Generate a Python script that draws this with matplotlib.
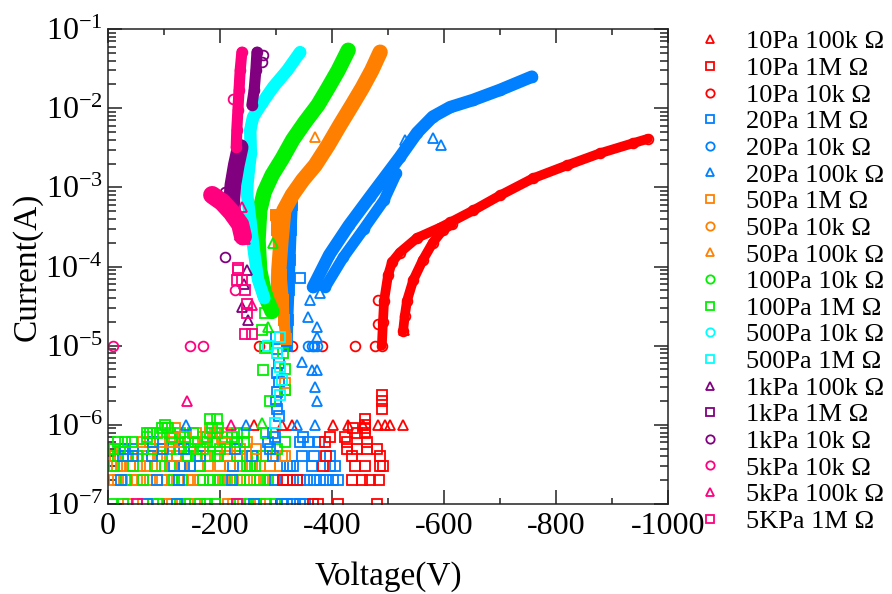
import numpy as np
import matplotlib.pyplot as plt
from matplotlib.lines import Line2D
from matplotlib.ticker import MultipleLocator, FixedLocator, LogLocator, LogFormatterMathtext, NullFormatter

plt.rcParams['font.family'] = ['Liberation Serif', 'DejaVu Serif']
plt.rcParams['mathtext.fontset'] = 'custom'
plt.rcParams['mathtext.rm'] = 'Liberation Serif'
plt.rcParams['axes.unicode_minus'] = False

RED = '#ff0000'
BLUE = '#0080ff'
ORANGE = '#ff8000'
GREEN = '#00f000'
CYAN = '#00ffff'
PURPLE = '#800080'
PINK = '#ff007f'

# --------------------------------------------------
# data (voltage in V, current in A)
# --------------------------------------------------
floor_levels = [1e-7, 2e-7, 3e-7, 4e-7, 5e-7, 6e-7, 7e-7, 8e-7, 9e-7]

orange_floor_v = [
    [-36, -63, -105, -114, -143, -155, -215, -224, -271],
    [-10, -18, -30, -42, -51, -63, -75, -96, -105, -114, -143, -152, -164, -188, -200, -212, -224, -236, -248, -260, -271, -283, -295],
    [-7, -16, -24, -39, -57, -69, -84, -96, -114, -132, -146, -164, -179, -200, -218, -236, -257, -271, -289, -307],
    [-4, -13, -33, -60, -72, -93, -105, -123, -140, -176, -191, -212, -236, -265, -283, -310, -316],
    [-7, -63, -96, -164, -212, -236, -265],
    [-63, -75, -93, -114, -129, -188, -248],
    [-117, -170, -203],
    [-158, -191, -212],
    [-105, -120, -182],
]
green_floor_v = [
    [-7, -27, -81, -90, -129, -137, -164, -176, -191, -236, -250, -265, -283, -298],
    [-33, -63, -117, -132, -170, -182, -197, -209, -236, -254, -271, -286],
    [-10, -45, -84, -111, -164, -248, -254, -262],
    [-18, -36, -51, -96, -143, -158, -182, -197, -230, -248, -277],
    [-10, -21, -63, -81, -111, -126, -149, -170, -200, -301],
    [-18, -30, -42, -143, -155, -176, -191, -209, -230, -242, -316],
    [-69, -114, -137, -176, -221],
    [-69, -75, -81, -87, -111, -129, -152, -182, -194, -230, -242, -283],
    [-96, -108, -185, -197],
]
blue_floor_v = [
    [-69, -123, -260, -310, -319, -331, -343, -352],
    [-24, -87, -126, -221, -298, -331, -343, -355, -367, -379, -390, -402, -411],
    [-117, -135, -146, -224, -319, -325, -331, -364, -396, -405],
    [-27, -45, -78, -164, -257, -295, -346, -367, -396],
    [-30, -45, -99, -135, -227, -289],
    [-81, -286, -343, -358, -376],
    [-298, -349],
    [-295],
    [],
]
red_floor_v = [
    [-366, -375, -411, -480],
    [-313, -320, -338, -436, -454, -468, -484],
    [-384, -441, -459, -486, -491],
    [-390, -435, -486],
    [-426, -444, -462, -480],
    [-387, -426, -462],
    [-396, -423],
    [-444, -459],
    [-438, -459],
]

# 10Pa
red10k_a_v = [-489, -491, -493, -500, -507, -521, -552, -593, -611, -652, -700, -759, -820, -879, -937, -964]
red10k_a_i = [1.0e-5, 2.0e-5, 3.7e-5, 7.7e-5, 1.13e-4, 1.5e-4, 2.3e-4, 3.1e-4, 3.6e-4, 5.1e-4, 7.9e-4, 1.3e-3, 1.9e-3, 2.7e-3, 3.6e-3, 4.1e-3]
red10k_b_v = [-527, -530, -534, -545, -562, -580, -598, -614]
red10k_b_i = [1.55e-5, 2.4e-5, 3.7e-5, 6.7e-5, 1.2e-4, 2.0e-4, 2.9e-4, 3.4e-4]
red10k_pts_v = [-270, -329, -382, -441, -477, -482, -482]
red10k_pts_i = [1e-5, 1e-5, 1e-5, 1e-5, 1e-5, 3.8e-5, 1.9e-5]
red100k_v = [-261, -311, -329, -402, -429, -455, -482, -495, -504, -527, -529]
red100k_i = [1e-6, 1e-6, 1e-6, 1e-6, 1e-6, 1e-6, 1e-6, 1e-6, 1e-6, 1e-6, 1.6e-5]
red1m_v = [-459, -459, -489, -489, -489]
red1m_i = [1e-6, 1.2e-6, 1.6e-6, 2.0e-6, 2.4e-6]

# 20Pa
blue10k_a_v = [-366, -395, -430, -468, -521, -552, -580, -611, -652, -700, -757]
blue10k_a_i = [5.5e-5, 1.4e-4, 3.3e-4, 7.6e-4, 2.4e-3, 4.9e-3, 7.8e-3, 1.03e-2, 1.27e-2, 1.7e-2, 2.5e-2]
blue10k_b_v = [-388, -420, -457, -493, -515]
blue10k_b_i = [5.5e-5, 1.3e-4, 3.0e-4, 6.9e-4, 1.5e-3]
blue10k_pts_v = [-357, -364, -368, -373]
blue10k_pts_i = [1e-5, 1e-5, 1e-5, 1e-5]
blue1m_band_v = [-329, -327, -325, -323, -321, -320]
blue1m_band_i = [6.0e-4, 2.9e-4, 1.2e-4, 5.0e-5, 2.1e-5, 1.0e-5]
blue1m_v = [-300, -302, -305, -302, -305, -302, -300, -302, -305, -343]
blue1m_i = [1.3e-5, 9e-6, 6e-6, 4.5e-6, 3.5e-6, 2.6e-6, 2.0e-6, 1.6e-6, 1.3e-6, 7.2e-5]
blue100k_v = [-139, -246, -338, -370, -370, -373, -361, -357, -373, -373, -379, -384, -530, -580, -595, -346, -364, -373]
blue100k_i = [1e-6, 1e-6, 1e-6, 1e-6, 3.0e-6, 2.0e-6, 3.8e-5, 2.3e-5, 1.7e-5, 1.3e-5, 4.6e-5, 5.8e-5, 4.0e-3, 4.2e-3, 3.4e-3, 6.2e-6, 4.9e-6, 4.9e-6]

# 50Pa
orange10k_v = [-486, -471, -454, -436, -414, -393, -370, -348, -329, -314, -309, -305, -304]
orange10k_i = [5.1e-2, 3.0e-2, 1.8e-2, 1.1e-2, 6.1e-3, 3.4e-3, 1.9e-3, 1.24e-3, 8.0e-4, 5.1e-4, 2.16e-4, 9.0e-5, 3.8e-5]
orange1m_v = [-300, -302, -305, -309, -313, -314, -318, -316, -316]
orange1m_i = [4.5e-4, 2.9e-4, 1.6e-4, 7.9e-5, 3.8e-5, 2.1e-5, 1.2e-5, 3.4e-6, 2.75e-6]
orange100k_v = [-370]
orange100k_i = [4.3e-3]

# 100Pa
green10k_v = [-429, -411, -393, -375, -352, -330, -311, -293, -279, -271, -268, -271, -280, -293]
green10k_i = [5.4e-2, 3.0e-2, 1.8e-2, 1.1e-2, 6.7e-3, 4.0e-3, 2.3e-3, 1.43e-3, 8.7e-4, 5.1e-4, 2.16e-4, 9.0e-5, 4.4e-5, 2.7e-5]
green1m_v = [-284, -280, -275, -280, -277, -289, -316, -316, -313, -102, -182, -194]
green1m_i = [4.0e-5, 2.6e-5, 1.6e-5, 9.3e-6, 4.9e-6, 2.0e-6, 2.75e-6, 5.0e-6, 8.0e-6, 1e-6, 1.2e-6, 1.2e-6]
green_tri_v = [-295, -286, -275]
green_tri_i = [2.0e-4, 1.7e-5, 1.05e-6]

# 500Pa
cyan10k_v = [-343, -320, -295, -275, -259, -254, -255, -250, -248, -254, -261, -268, -279]
cyan10k_i = [5.1e-2, 3.0e-2, 1.85e-2, 1.16e-2, 7.7e-3, 5.3e-3, 2.7e-3, 1.34e-3, 8.5e-4, 3.9e-4, 1.48e-4, 6.8e-5, 4.0e-5]
cyan1m_v = [-286, -307, -302, -307, -311, -307, -298]
cyan1m_i = [1.0e-5, 1.29e-5, 8.1e-6, 5.4e-6, 3.7e-6, 2.4e-6, 1.05e-6]

# 1kPa
purple10k_v = [-266, -264, -261, -257]
purple10k_i = [5.1e-2, 3.0e-2, 1.7e-2, 1.1e-2]
purple10k_pts_v = [-209, -209, -277, -275]
purple10k_pts_i = [8.7e-4, 1.3e-4, 4.7e-2, 3.8e-2]
purple1m_v = [-236, -229, -223, -221, -223]
purple1m_i = [3.2e-3, 1.9e-3, 1.07e-3, 6.9e-4, 4.5e-4]
purple100k_v = [-239, -250, -248, -236, -243]
purple100k_i = [3.1e-5, 2.1e-5, 9.0e-5, 2.5e-4, 6.0e-5]

# 5kPa
pink10k_v = [-239, -236, -234, -232, -230, -229]
pink10k_i = [5.1e-2, 3.0e-2, 1.7e-2, 9.6e-3, 5.3e-3, 3.2e-3]
pink10k_pts_v = [-9, -146, -170, -227, -223]
pink10k_pts_i = [1e-5, 1e-5, 1e-5, 5.0e-5, 1.3e-2]
pink1m_band_v = [-186, -204, -221, -236, -241]
pink1m_band_i = [8.0e-4, 6.5e-4, 4.8e-4, 3.4e-4, 2.4e-4]
pink1m_v = [-232, -232, -239, -245, -248, -248, -245, -257, -230, -52, -230]
pink1m_i = [9.5e-5, 9.0e-5, 6.8e-5, 5.0e-5, 3.4e-5, 2.6e-5, 1.4e-5, 1.4e-5, 6.8e-5, 1e-7, 1e-7]
pink100k_v = [-141, -220, -239, -241, -245, -257]
pink100k_i = [2.0e-6, 1e-6, 5.6e-4, 3.6e-4, 2.2e-4, 3.3e-5]

legend_labels = ['10Pa 100k Ω', '10Pa 1M Ω', '10Pa 10k Ω', '20Pa 1M Ω', '20Pa 10k Ω',
                 '20Pa 100k Ω', '50Pa 1M Ω', '50Pa 10k Ω', '50Pa 100k Ω', '100Pa 10k Ω',
                 '100Pa 1M Ω', '500Pa 10k Ω', '500Pa 1M Ω', '1kPa 100k Ω', '1kPa 1M Ω',
                 '1kPa 10k Ω', '5kPa 10k Ω', '5kPa 100k Ω', '5KPa 1M Ω']
legend_colors = [RED, RED, RED, BLUE, BLUE, BLUE, ORANGE, ORANGE, ORANGE, GREEN,
                 GREEN, CYAN, CYAN, PURPLE, PURPLE, PURPLE, PINK, PINK, PINK]
legend_markers = ['^', 's', 'o', 's', 'o', '^', 's', 'o', '^', 'o',
                  's', 'o', 's', '^', 's', 'o', 'o', '^', 's']
y_ticks = [1e-7, 1e-6, 1e-5, 1e-4, 1e-3, 1e-2, 1e-1]

MS = 7
MEW = 1.3


def pts(ax, v, i, color, marker):
    ax.plot(v, i, ls='none', marker=marker, ms=MS, mew=MEW, mfc='none', mec=color)


def band(ax, v, i, color, marker, lw):
    ax.plot(v, i, ls='-', lw=lw, color=color, solid_capstyle='round',
            marker=marker, ms=MS, mew=MEW, mfc='none', mec=color)


fig = plt.figure(figsize=(8.92, 5.94), dpi=100)
ax = fig.add_axes([108 / 892, 1 - 504 / 594, 560 / 892, 475 / 594])
ax.set_yscale('log')

# floors of squares
for lvl, vo, vg, vb, vr in zip(floor_levels, orange_floor_v, green_floor_v, blue_floor_v, red_floor_v):
    pts(ax, vo, [lvl] * len(vo), ORANGE, 's')
    pts(ax, vg, [lvl] * len(vg), GREEN, 's')
    pts(ax, vb, [lvl] * len(vb), BLUE, 's')
    pts(ax, vr, [lvl] * len(vr), RED, 's')

# 10Pa
band(ax, red10k_a_v, red10k_a_i, RED, 'o', 7)
band(ax, red10k_b_v, red10k_b_i, RED, 'o', 7)
pts(ax, red10k_pts_v, red10k_pts_i, RED, 'o')
pts(ax, red100k_v, red100k_i, RED, '^')
pts(ax, red1m_v, red1m_i, RED, 's')

# 20Pa
band(ax, blue1m_band_v, blue1m_band_i, BLUE, 's', 8)
pts(ax, blue1m_v, blue1m_i, BLUE, 's')
band(ax, blue10k_a_v, blue10k_a_i, BLUE, 'o', 9)
band(ax, blue10k_b_v, blue10k_b_i, BLUE, 'o', 8)
pts(ax, blue10k_pts_v, blue10k_pts_i, BLUE, 'o')
pts(ax, blue100k_v, blue100k_i, BLUE, '^')

# 50Pa
band(ax, orange1m_v[:7], orange1m_i[:7], ORANGE, 's', 8)
pts(ax, orange1m_v, orange1m_i, ORANGE, 's')
band(ax, orange10k_v, orange10k_i, ORANGE, 'o', 11)
pts(ax, orange100k_v, orange100k_i, ORANGE, '^')

# 100Pa
band(ax, green10k_v, green10k_i, GREEN, 'o', 11)
pts(ax, green1m_v, green1m_i, GREEN, 's')
pts(ax, green_tri_v, green_tri_i, GREEN, '^')

# 500Pa
band(ax, cyan10k_v, cyan10k_i, CYAN, 'o', 9)
pts(ax, cyan1m_v, cyan1m_i, CYAN, 's')

# 1kPa
band(ax, purple10k_v, purple10k_i, PURPLE, 'o', 8)
pts(ax, purple10k_pts_v, purple10k_pts_i, PURPLE, 'o')
band(ax, purple1m_v, purple1m_i, PURPLE, 's', 12)
pts(ax, purple100k_v, purple100k_i, PURPLE, '^')

# 5kPa
band(ax, pink10k_v, pink10k_i, PINK, 'o', 8)
pts(ax, pink10k_pts_v, pink10k_pts_i, PINK, 'o')
band(ax, pink1m_band_v, pink1m_band_i, PINK, 's', 13)
pts(ax, pink1m_v, pink1m_i, PINK, 's')
pts(ax, pink100k_v, pink100k_i, PINK, '^')

# axes
ax.set_xlim(0, -1000)
ax.set_ylim(1e-7, 1e-1)
ax.xaxis.set_major_locator(MultipleLocator(200))
ax.xaxis.set_minor_locator(MultipleLocator(100))
ax.yaxis.set_major_locator(FixedLocator(y_ticks))
ax.yaxis.set_minor_locator(LogLocator(base=10, subs=np.arange(2, 10), numticks=20))
ax.yaxis.set_major_formatter(LogFormatterMathtext())
ax.yaxis.set_minor_formatter(NullFormatter())
ax.tick_params(which='both', direction='in', top=True, right=True, width=1.1, color='#222222')
ax.tick_params(axis='x', which='major', length=10, labelsize=23, pad=6)
ax.tick_params(axis='x', which='minor', length=4)
ax.tick_params(axis='y', which='major', length=10, labelsize=23)
ax.tick_params(axis='y', which='minor', length=6)
for s in ax.spines.values():
    s.set_linewidth(1.1)
    s.set_color('#222222')

ax.set_xlabel('Voltage(V)', fontsize=24, labelpad=14)
ax.set_ylabel('Current(A)', fontsize=24, labelpad=2)

handles = [Line2D([], [], ls='none', marker=m, ms=6, mew=1.3, mfc='none', mec=c)
           for m, c in zip(legend_markers, legend_colors)]
ax.legend(handles, legend_labels, loc='upper left', bbox_to_anchor=(697 / 892, 1 - 30 / 594),
          bbox_transform=fig.transFigure, frameon=False, fontsize=19, labelspacing=0.12,
          handlelength=1.0, handletextpad=0.85, borderpad=0, borderaxespad=0)

fig.savefig('out.png', dpi=100)
